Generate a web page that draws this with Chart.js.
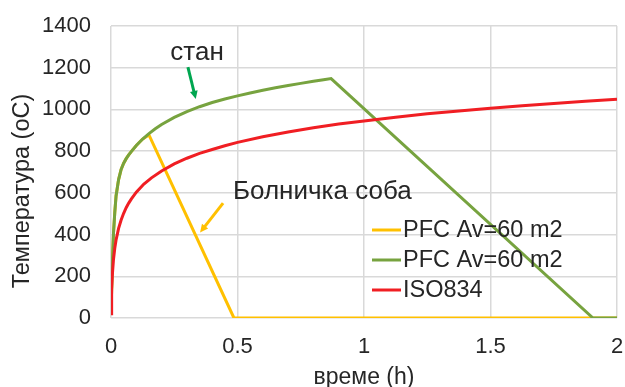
<!DOCTYPE html>
<html>
<head>
<meta charset="utf-8">
<script src="https://cdn.jsdelivr.net/npm/chart.js@4"></script>
<style>
  html, body { margin: 0; padding: 0; background: #fff; }
  #wrap { width: 625px; height: 387px; }
</style>
</head>
<body>
<div id="wrap"><canvas id="chart" width="625" height="387"></canvas></div>
<script>
// time in hours, temperature in oC
const yellowTime = [0, 0.005, 0.01, 0.015, 0.02, 0.03, 0.04, 0.05, 0.06, 0.07, 0.08, 0.1, 0.125, 0.15, 0.486, 2];
const yellowTemp = [20, 250, 410, 507, 585, 664, 712, 742, 764, 782, 798, 827, 858, 878, 0, 0];

const greenTime = [0, 0.005, 0.01, 0.015, 0.02, 0.03, 0.04, 0.05, 0.06, 0.07, 0.08, 0.1, 0.125, 0.15, 0.175, 0.2, 0.25,
  0.3, 0.35, 0.4, 0.45, 0.5, 0.55, 0.6, 0.65, 0.7, 0.75, 0.8, 0.84, 0.87, 1.905, 2];
const greenTemp = [20, 250, 410, 507, 585, 664, 712, 742, 764, 782, 798, 827, 858, 884, 907, 928, 962,
  990, 1013, 1033, 1050, 1065, 1079, 1092, 1104, 1115, 1125, 1135, 1142, 1148, 0, 0];

const redTime = [0, 0.0025, 0.005, 0.01, 0.015, 0.02, 0.03, 0.04, 0.05, 0.06, 0.07, 0.08, 0.1, 0.13, 0.16, 0.2, 0.25,
  0.3, 0.35, 0.4, 0.45, 0.5, 0.6, 0.7, 0.8, 0.9, 1, 1.125, 1.25, 1.375, 1.5, 1.625, 1.75, 1.875, 2];
const redTemp = [20, 138, 203, 283, 335, 374, 430, 470, 502, 529, 551, 570, 603, 642, 672, 705, 739,
  766, 789, 808, 826, 842, 869, 892, 912, 930, 945, 963, 979, 993, 1006, 1018, 1029, 1039, 1049];

const seriesNames = ['PFC Av=60 m2', 'PFC Av=60 m2', 'ISO834'];
const seriesColors = ['#ffc000', '#77a33f', '#f01e23'];

const xTicks = [0, 0.5, 1, 1.5, 2];
const yTicks = [0, 200, 400, 600, 800, 1000, 1200, 1400];

const xTitle = 'време (h)';
const yTitle = 'Температура (oC)';

// callouts, anchored in data units
const notes = [
  { text: 'стан', x: 0.34, y: 1270, align: 'center', color: '#00a650', from: [0.304, 1203], to: [0.335, 1050] },
  { text: 'Болничка соба', x: 0.482, y: 604, align: 'left', color: '#ffc000', from: [0.443, 551], to: [0.352, 410] }
];

const FONT = '"Liberation Sans", Arial, sans-serif';
const TEXT = '#262626';

function points(xs, ys) {
  return xs.map((x, i) => ({ x: x, y: ys[i] }));
}

// y title sits a bit below the plot centre in the original, so it is drawn by hand
const yAxisTitle = {
  id: 'yAxisTitle',
  afterDraw(chart) {
    const ctx = chart.ctx;
    const area = chart.chartArea;
    ctx.save();
    ctx.translate(23, (area.top + area.bottom) / 2 + 19);
    ctx.rotate(-Math.PI / 2);
    ctx.font = '23.5px ' + FONT;
    ctx.fillStyle = TEXT;
    ctx.textAlign = 'center';
    ctx.textBaseline = 'middle';
    ctx.fillText(yTitle, 0, 0);
    ctx.restore();
  }
};

const insideLegend = {
  id: 'insideLegend',
  afterDraw(chart) {
    const ctx = chart.ctx;
    const area = chart.chartArea;
    const x0 = area.left + 261;
    const y0 = area.top + 204;
    ctx.save();
    ctx.font = '23.5px ' + FONT;
    ctx.textBaseline = 'middle';
    chart.data.datasets.forEach((ds, i) => {
      const y = y0 + i * 30;
      ctx.strokeStyle = ds.borderColor;
      ctx.lineWidth = 3;
      ctx.beginPath();
      ctx.moveTo(x0, y);
      ctx.lineTo(x0 + 29, y);
      ctx.stroke();
      ctx.fillStyle = TEXT;
      ctx.fillText(ds.label, x0 + 31, y + 1);
    });
    ctx.restore();
  }
};

const callouts = {
  id: 'callouts',
  afterDraw(chart) {
    const ctx = chart.ctx;
    const xs = chart.scales.x;
    const ys = chart.scales.y;
    ctx.save();
    notes.forEach(n => {
      ctx.font = '26px ' + FONT;
      ctx.fillStyle = TEXT;
      ctx.textAlign = n.align;
      ctx.textBaseline = 'middle';
      ctx.fillText(n.text, xs.getPixelForValue(n.x), ys.getPixelForValue(n.y));

      const ax = xs.getPixelForValue(n.from[0]);
      const ay = ys.getPixelForValue(n.from[1]);
      const bx = xs.getPixelForValue(n.to[0]);
      const by = ys.getPixelForValue(n.to[1]);
      const ang = Math.atan2(by - ay, bx - ax);
      const head = 9;
      ctx.strokeStyle = n.color;
      ctx.fillStyle = n.color;
      ctx.lineWidth = 3;
      ctx.beginPath();
      ctx.moveTo(ax, ay);
      ctx.lineTo(bx - Math.cos(ang) * head * 0.8, by - Math.sin(ang) * head * 0.8);
      ctx.stroke();
      ctx.beginPath();
      ctx.moveTo(bx, by);
      ctx.lineTo(bx - head * Math.cos(ang - 0.45), by - head * Math.sin(ang - 0.45));
      ctx.lineTo(bx - head * Math.cos(ang + 0.45), by - head * Math.sin(ang + 0.45));
      ctx.closePath();
      ctx.fill();
    });
    ctx.restore();
  }
};

const lineSet = (label, color, xs, ys, order) => ({
  label: label,
  data: points(xs, ys),
  borderColor: color,
  backgroundColor: color,
  borderWidth: 3,
  pointRadius: 0,
  showLine: true,
  tension: 0,
  order: order
});

new Chart(document.getElementById('chart'), {
  type: 'scatter',
  data: {
    datasets: [
      lineSet(seriesNames[0], seriesColors[0], yellowTime, yellowTemp, 2),
      lineSet(seriesNames[1], seriesColors[1], greenTime, greenTemp, 1),
      lineSet(seriesNames[2], seriesColors[2], redTime, redTemp, 0)
    ]
  },
  options: {
    responsive: false,
    animation: false,
    layout: { padding: { top: 26, right: 8, bottom: 0, left: 0 } },
    plugins: {
      legend: { display: false },
      tooltip: { enabled: false }
    },
    scales: {
      x: {
        type: 'linear',
        min: 0,
        max: 2,
        afterBuildTicks: axis => { axis.ticks = xTicks.map(v => ({ value: v })); },
        afterFit: axis => { axis.height = 69; axis.paddingLeft = 0; axis.paddingRight = 0; },
        grid: { color: '#d9d9d9', lineWidth: 1.5, drawTicks: false },
        border: { display: false },
        ticks: {
          padding: 16,
          color: TEXT,
          font: { family: FONT, size: 22 },
          callback: v => String(v)
        },
        title: {
          display: true,
          text: xTitle,
          color: TEXT,
          font: { family: FONT, size: 23 },
          padding: { top: 0, bottom: -4 }
        }
      },
      y: {
        type: 'linear',
        min: 0,
        max: 1400,
        afterBuildTicks: axis => { axis.ticks = yTicks.map(v => ({ value: v })); },
        afterFit: axis => { axis.width = 111; axis.paddingTop = 0; axis.paddingBottom = 0; },
        grid: { color: '#d9d9d9', lineWidth: 1.5, drawTicks: false },
        border: { display: false },
        ticks: {
          padding: 20,
          color: TEXT,
          font: { family: FONT, size: 22 },
          callback: v => String(v)
        }
      }
    }
  },
  plugins: [insideLegend, callouts, yAxisTitle]
});
</script>
</body>
</html>
